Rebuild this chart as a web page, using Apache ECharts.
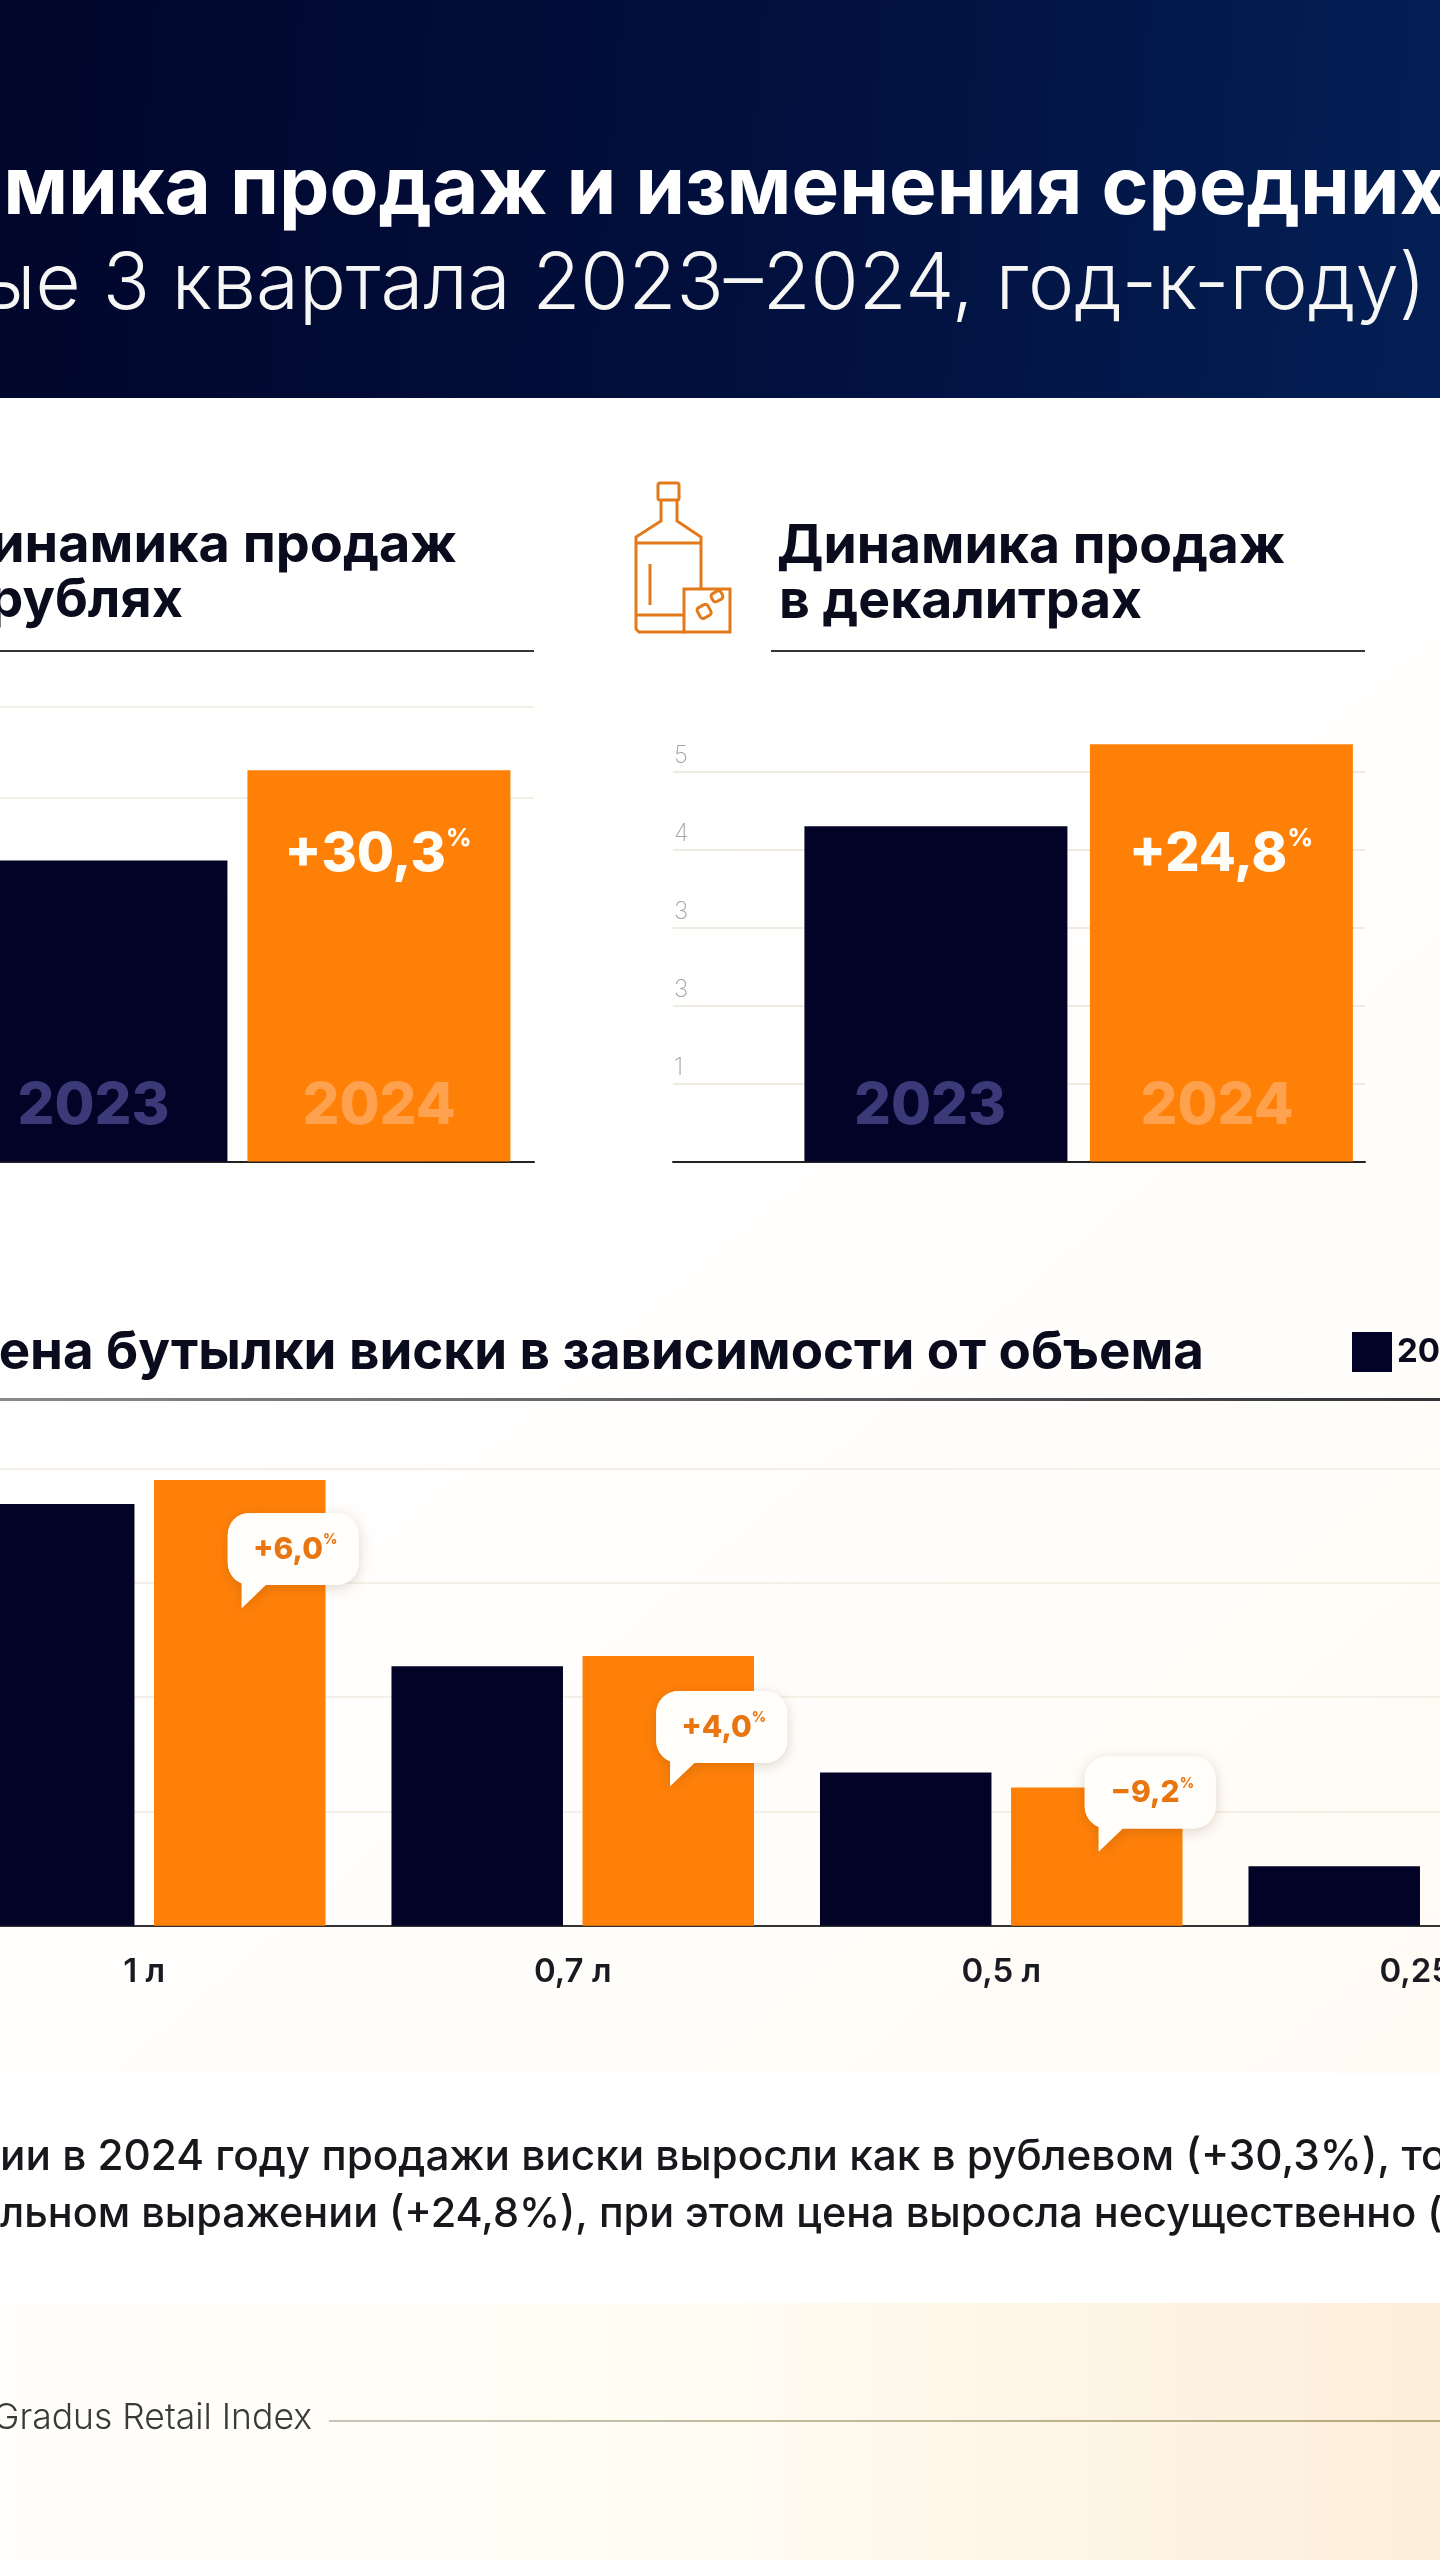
<!DOCTYPE html>
<html>
<head>
<meta charset="utf-8">
<title>Виски</title>
<script src="https://cdn.jsdelivr.net/npm/echarts@6/dist/echarts.min.js"></script>
<style>
  html, body { margin: 0; padding: 0; background: #fff; }
  #main { width: 1440px; height: 2560px; overflow: hidden; }
</style>
</head>
<body>
<div id="main"></div>
<script>
// цвета
var NAVY = '#020327', ORANGE = '#ff8007', BUBBLE_TEXT = '#e8750f';
var FONT = 'Inter';

// динамика в рублях
var rubYears = [2023, 2024];
var rubValues = [3.31, 4.3];
var rubGridTicks = [4, 5];

// динамика в декалитрах
var dalYears = [2023, 2024];
var dalValues = [4.3, 5.35];
var dalTicks = [1, 2, 3, 4, 5];
var dalTickLabels = ['1', '3', '3', '4', '5'];

// средняя цена по объему
var volumes = ['1 л', '0,7 л', '0,5 л', '0,25 л'];
var price2023 = [3.69, 2.27, 1.34, 0.52];
var price2024 = [3.9, 2.36, 1.21, null];
var priceChange = ['+6,0', '+4,0', '−9,2'];
var bubbleShift = [33, 35, -31];

function barColors(vals, years) {
  return vals.map(function (v, i) {
    return { value: [years[i], v], itemStyle: { color: i === 0 ? NAVY : ORANGE } };
  });
}

// y здесь - базовая линия текста
function txt(text, x, y, size, weight, color, align, z) {
  return {
    type: 'text', x: x, y: y - size * 0.83, z: z || 20,
    style: { text: text, fontFamily: FONT, fontSize: size, fontWeight: weight, fill: color,
      align: align || 'left', verticalAlign: 'top' }
  };
}

function pct(text, x, y, size, color) {
  return {
    type: 'text', x: x, y: y, z: 20,
    style: {
      text: '{a|' + text + '}{b|%}', align: 'center', verticalAlign: 'middle',
      rich: {
        a: { fontFamily: FONT, fontSize: size, fontWeight: 800, fill: color, color: color, lineHeight: size + 4 },
        b: { fontFamily: FONT, fontSize: size * 0.46, fontWeight: 800, fill: color, color: color, verticalAlign: 'top', lineHeight: size + 4 }
      }
    }
  };
}

function icon() {
  var st = { stroke: '#e27a1b', lineWidth: 3, fill: 'none' };
  return {
    type: 'group', x: 636, y: 481, z: 20,
    children: [
      { type: 'rect', shape: { x: 22, y: 2, width: 21, height: 17, r: 2 }, style: st },
      { type: 'polyline', shape: { points: [[25, 19], [25, 40], [0, 56], [0, 148], [3, 151], [48, 151]] }, style: st },
      { type: 'polyline', shape: { points: [[41, 19], [41, 40], [65, 56], [65, 108]] }, style: st },
      { type: 'line', shape: { x1: 0, y1: 62, x2: 65, y2: 62 }, style: st },
      { type: 'line', shape: { x1: 0, y1: 134, x2: 48, y2: 134 }, style: st },
      { type: 'line', shape: { x1: 14, y1: 83, x2: 14, y2: 124 }, style: st },
      { type: 'rect', shape: { x: 48, y: 108, width: 46, height: 43 }, style: st },
      { type: 'rect', x: 60, y: 128, rotation: 0.5, shape: { x: 0, y: 0, width: 12, height: 12, r: 3 }, style: st },
      { type: 'rect', x: 74, y: 114, rotation: 0.5, shape: { x: 0, y: 0, width: 11, height: 9, r: 3 }, style: st }
    ]
  };
}

function lg(stops, x2, y2) {
  return new echarts.graphic.LinearGradient(0, 0, x2 === undefined ? 1 : x2, y2 || 0, stops);
}

function renderBubble(params, api) {
  var i = api.value(0);
  var p = api.coord([i, api.value(1)]);
  var x = p[0] + 83.5, y = p[1] + bubbleShift[i];
  var w = 131, h = 72;
  var tail = [[x + 14, y + h - 2], [x + 14, y + h + 23], [x + 40, y + h - 2]];
  var shadow = { shadowBlur: 14, shadowColor: 'rgba(90,50,10,0.2)', shadowOffsetY: 3 };
  return {
    type: 'group',
    children: [
      { type: 'rect', shape: { x: x, y: y, width: w, height: h, r: 22 }, style: Object.assign({ fill: '#fffefb' }, shadow) },
      { type: 'polygon', shape: { points: tail }, style: Object.assign({ fill: '#fffefb' }, shadow) },
      { type: 'rect', shape: { x: x, y: y, width: w, height: h, r: 22 }, style: { fill: '#fffefb' } },
      { type: 'polygon', shape: { points: tail }, style: { fill: '#fffefb' } },
      {
        type: 'text', x: x + w / 2 + 2, y: y + h / 2 + 1,
        style: {
          text: '{a|' + priceChange[i] + '}{b|%}', align: 'center', verticalAlign: 'middle',
          rich: {
            a: { fontFamily: FONT, fontSize: 30, fontWeight: 800, fill: BUBBLE_TEXT, color: BUBBLE_TEXT, lineHeight: 34 },
            b: { fontFamily: FONT, fontSize: 14, fontWeight: 800, fill: BUBBLE_TEXT, color: BUBBLE_TEXT, verticalAlign: 'top', lineHeight: 34 }
          }
        }
      }
    ]
  };
}

var chart = echarts.init(document.getElementById('main'), null, { renderer: 'canvas' });

var graphics = [
  // фон
  { type: 'rect', z: -10, shape: { x: 0, y: 398, width: 1440, height: 1675 }, style: { fill: lg([{ offset: 0, color: '#ffffff' }, { offset: 0.6, color: '#fffefd' }, { offset: 1, color: '#fffbf3' }], 1, 1) } },
  { type: 'rect', z: -10, shape: { x: 0, y: 2073, width: 1440, height: 230 }, style: { fill: '#ffffff' } },
  { type: 'rect', z: -10, shape: { x: 0, y: 2303, width: 1440, height: 257 }, style: { fill: lg([{ offset: 0, color: '#fffefb' }, { offset: 0.5, color: '#fffcf2' }, { offset: 1, color: '#fdeeda' }]) } },
  { type: 'rect', z: -9, shape: { x: 0, y: 0, width: 1440, height: 398 }, style: { fill: lg([{ offset: 0, color: '#01062b' }, { offset: 0.6, color: '#021140' }, { offset: 1, color: '#041f55' }], 1, 0.3) } },

  // шапка
  txt('Динамика продаж и изменения средних', 1446, 216, 80, 700, '#ffffff', 'right'),
  txt('(первые 3 квартала 2023–2024, год-к-году)', 1426, 311, 78, 300, '#f6f6f4', 'right'),

  // заголовки блоков
  txt('Динамика продаж', 457, 564, 54, 700, '#0b0b1e', 'right'),
  txt('в рублях', 183, 619, 54, 700, '#0b0b1e', 'right'),
  { type: 'rect', z: 20, shape: { x: 0, y: 650, width: 534, height: 2 }, style: { fill: '#33333a' } },
  txt('Динамика продаж', 777, 564, 53.5, 700, '#0b0b1e'),
  txt('в декалитрах', 779, 619, 53.5, 700, '#0b0b1e'),
  { type: 'rect', z: 20, shape: { x: 771, y: 650, width: 594, height: 2 }, style: { fill: '#33333a' } },
  icon(),

  // подписи внутри столбиков
  txt('2023', 93.5, 1126, 58, 800, '#3b3a78', 'center'),
  txt('2024', 379, 1126, 58, 800, '#ffa24f', 'center'),
  txt('2023', 930, 1126, 58, 800, '#3b3a78', 'center'),
  txt('2024', 1217, 1126, 58, 800, '#ffa24f', 'center'),
  pct('+30,3', 378, 855, 54, '#fffdf8'),
  pct('+24,8', 1221, 855, 54, '#fffdf8'),

  // нижний блок
  txt('Цена бутылки виски в зависимости от объема', 1204, 1370, 52.8, 700, '#0b0b1e', 'right'),
  { type: 'rect', z: 20, shape: { x: 0, y: 1398, width: 1440, height: 3 }, style: { fill: lg([{ offset: 0, color: '#8a8a8a' }, { offset: 1, color: '#33333a' }]) } },

  // вывод
  txt('ии в 2024 году продажи виски выросли как в рублевом (+30,3%), то', 0, 2171, 42.3, 500, '#17171c'),
  txt('льном выражении (+24,8%), при этом цена выросла несущественно (', 0, 2228, 41.4, 500, '#17171c'),

  // подвал
  txt('Gradus Retail Index', 312, 2430, 35.5, 300, '#3a3a3a', 'right'),
  { type: 'rect', z: 20, shape: { x: 329, y: 2420, width: 1111, height: 2 }, style: { fill: lg([{ offset: 0, color: '#c8c6b8' }, { offset: 1, color: '#b5a97a' }]) } }
];

var option = {
  animation: false,
  graphic: { elements: graphics },
  legend: {
    data: ['2023'], left: 1347, top: 1327, itemWidth: 40, itemHeight: 40, itemGap: 14,
    icon: 'rect', selectedMode: false,
    textStyle: { fontFamily: FONT, fontSize: 33, fontWeight: 700, color: '#0b0b1e' }
  },
  grid: [
    { left: 0, width: 534, top: 706.6, height: 455 },
    { left: 673, width: 692, top: 693.6, height: 468 },
    { left: -70, width: 1714, top: 1468.5, height: 457.2, outerBoundsMode: 'none' }
  ],
  xAxis: [
    {
      gridIndex: 0, type: 'value', min: 2022.661, max: 2024.548,
      axisLine: { lineStyle: { color: '#222', width: 2 } }, axisTick: { show: false }, axisLabel: { show: false }, splitLine: { show: false }
    },
    {
      gridIndex: 1, type: 'value', min: 2022.079, max: 2024.503,
      axisLine: { lineStyle: { color: '#222', width: 2 } }, axisTick: { show: false }, axisLabel: { show: false }, splitLine: { show: false }
    },
    {
      gridIndex: 2, type: 'category', data: volumes,
      axisLine: { lineStyle: { color: '#333', width: 2 } }, axisTick: { show: false },
      axisLabel: { margin: 30, fontFamily: FONT, fontSize: 33, fontWeight: 600, color: '#1a1a22', interval: 0 }
    }
  ],
  yAxis: [
    {
      gridIndex: 0, type: 'value', min: 0, max: 5, interval: 1,
      axisLine: { show: false }, axisTick: { show: false, customValues: rubGridTicks }, axisLabel: { show: false },
      splitLine: { lineStyle: { color: '#efecdf', width: 1.5 } }
    },
    {
      gridIndex: 1, type: 'value', min: 0, max: 6, interval: 1,
      axisLine: { show: false }, axisTick: { show: false, customValues: dalTicks },
      axisLabel: {
        inside: true, margin: 1, customValues: dalTicks, verticalAlign: 'bottom', align: 'left', padding: [0, 0, 4, 0],
        fontFamily: FONT, fontSize: 24, fontWeight: 200, color: '#a5a5a5',
        formatter: function (v) { return dalTickLabels[v - 1]; }
      },
      splitLine: { lineStyle: { color: '#e9e5d8', width: 1.5 } }
    },
    {
      gridIndex: 2, type: 'value', min: 0, max: 4, interval: 1,
      axisLine: { show: false }, axisTick: { show: false }, axisLabel: { show: false },
      splitLine: { lineStyle: { color: '#efecdf', width: 1.5 } }
    }
  ],
  series: [
    { type: 'bar', xAxisIndex: 0, yAxisIndex: 0, barWidth: 263, data: barColors(rubValues, rubYears) },
    { type: 'bar', xAxisIndex: 1, yAxisIndex: 1, barWidth: 263, data: barColors(dalValues, dalYears) },
    { name: '2023', type: 'bar', xAxisIndex: 2, yAxisIndex: 2, barWidth: 171.5, barGap: '11.4%', itemStyle: { color: NAVY }, data: price2023 },
    { name: '2024', type: 'bar', xAxisIndex: 2, yAxisIndex: 2, barWidth: 171.5, barGap: '11.4%', itemStyle: { color: ORANGE }, data: price2024 },
    {
      type: 'custom', xAxisIndex: 2, yAxisIndex: 2, z: 10, clip: false, renderItem: renderBubble,
      data: priceChange.map(function (c, i) { return [i, price2024[i]]; })
    }
  ]
};

chart.setOption(option);
</script>
</body>
</html>
